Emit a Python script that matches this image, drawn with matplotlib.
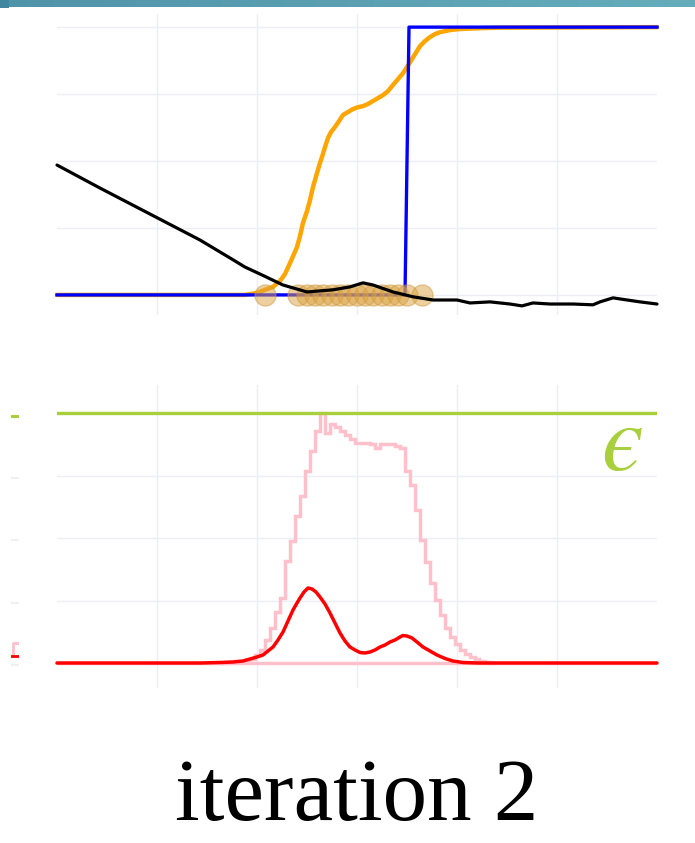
import numpy as np
import matplotlib
matplotlib.use("Agg")
import matplotlib.pyplot as plt
from matplotlib.colors import LinearSegmentedColormap

# ---------------- data ----------------
# top panel: x positions in units of the horizontal axis (0..6)
blue_x = [0.0, 3.48, 3.52, 6.0]
blue_y = [0.0, 0.0, 1.0, 1.0]

orange_x = [0.0, 1.88, 2.00, 2.08, 2.16, 2.23, 2.28, 2.33, 2.37, 2.40, 2.43,
            2.46, 2.50, 2.53, 2.56, 2.60, 2.63, 2.65, 2.68, 2.71, 2.74, 2.78,
            2.82, 2.86, 2.91, 2.96, 3.01, 3.06, 3.11, 3.16, 3.21, 3.26, 3.31,
            3.36, 3.41, 3.46, 3.50, 3.53, 3.58, 3.63, 3.68, 3.73, 3.78, 3.83,
            3.93, 4.03, 4.23, 4.43, 6.0]
orange_y = [0.0, 0.0, 0.0075, 0.019, 0.030, 0.052, 0.078, 0.119, 0.153,
            0.179, 0.220, 0.269, 0.313, 0.354, 0.403, 0.455, 0.493, 0.515,
            0.552, 0.586, 0.608, 0.627, 0.649, 0.672, 0.683, 0.694, 0.701,
            0.705, 0.713, 0.724, 0.735, 0.746, 0.761, 0.784, 0.806, 0.828,
            0.851, 0.869, 0.899, 0.929, 0.948, 0.963, 0.974, 0.981, 0.989,
            0.993, 0.996, 0.998, 1.0]

black_x = [0.0, 0.43, 0.93, 1.43, 1.73, 1.88, 2.03, 2.26, 2.50, 2.76, 2.93,
           3.06, 3.16, 3.36, 3.56, 3.76, 4.00, 4.13, 4.33, 4.53, 4.65, 4.76,
           4.93, 5.16, 5.36, 5.43, 5.56, 5.63, 5.83, 6.0]
black_y = [0.485, 0.399, 0.302, 0.205, 0.138, 0.104, 0.078, 0.037, 0.011,
           0.019, 0.030, 0.045, 0.037, 0.011, -0.007, -0.019, -0.019, -0.030,
           -0.026, -0.034, -0.041, -0.030, -0.034, -0.034, -0.037, -0.026,
           -0.011, -0.015, -0.026, -0.034]

sample_x = [2.08, 2.41, 2.50, 2.58, 2.66, 2.75, 2.83, 2.91, 3.00, 3.08, 3.16,
            3.25, 3.33, 3.41, 3.50, 3.65]
sample_y = [0.0] * len(sample_x)

# bottom panel
eps_level = 1.0

red_x = [0.0, 1.43, 1.63, 1.76, 1.86, 1.93, 2.00, 2.06, 2.11, 2.16, 2.21,
         2.26, 2.31, 2.36, 2.40, 2.43, 2.47, 2.51, 2.55, 2.59, 2.63, 2.68,
         2.73, 2.78, 2.83, 2.88, 2.93, 2.98, 3.03, 3.08, 3.13, 3.18, 3.23,
         3.28, 3.33, 3.38, 3.43, 3.46, 3.50, 3.55, 3.60, 3.66, 3.73, 3.80,
         3.88, 3.96, 4.06, 4.21, 6.0]
red_y = [0.0, 0.0, 0.002, 0.004, 0.008, 0.016, 0.024, 0.032, 0.048, 0.064,
         0.092, 0.124, 0.168, 0.212, 0.24, 0.26, 0.284, 0.30, 0.296, 0.284,
         0.264, 0.236, 0.20, 0.16, 0.12, 0.088, 0.064, 0.052, 0.042, 0.04,
         0.044, 0.052, 0.064, 0.072, 0.084, 0.092, 0.104, 0.11, 0.108, 0.10,
         0.084, 0.064, 0.048, 0.032, 0.018, 0.008, 0.002, 0.0, 0.0]

hist_start, hist_width = 1.625, 0.05
hist_vals = [0.0, 0.004, 0.004, 0.008, 0.008, 0.012, 0.016, 0.032, 0.052,
             0.092, 0.14, 0.204, 0.26, 0.41, 0.49, 0.59, 0.67, 0.77, 0.85,
             0.93, 1.0, 0.92, 0.956, 0.944, 0.928, 0.912, 0.896, 0.88, 0.88,
             0.88, 0.876, 0.86, 0.876, 0.876, 0.876, 0.868, 0.86, 0.768,
             0.712, 0.612, 0.492, 0.404, 0.32, 0.252, 0.192, 0.14, 0.104,
             0.076, 0.052, 0.036, 0.024, 0.016, 0.008, 0.004, 0.0]

grid_levels = [0.0, 0.25, 0.5, 0.75, 1.0]
v_grid = [1, 2, 3, 4, 5]

title = "iteration 2"
eps_label = "\u03f5"

# ---------------- figure ----------------
W, H = 695, 843
fig = plt.figure(figsize=(W / 100, H / 100), dpi=100)
fig.patch.set_facecolor("white")

def px_axes(x0, y0, x1, y1, **kw):
    return fig.add_axes([x0 / W, 1 - y1 / H, (x1 - x0) / W, (y1 - y0) / H], **kw)

GRID = "#eceef5"

def style(ax):
    ax.set_facecolor("none")
    for s in ax.spines.values():
        s.set_visible(False)
    ax.set_xticks(v_grid)
    ax.set_yticks(grid_levels)
    ax.tick_params(length=0, labelleft=False, labelbottom=False)
    ax.grid(True, color=GRID, lw=1.0)
    ax.set_axisbelow(True)

# header band
band = px_axes(0, 0, W, 7)
band.set_axis_off()
cmap = LinearSegmentedColormap.from_list("band", ["#4f93a9", "#65adbb"])
band.imshow(np.linspace(0, 1, 256)[None, :], aspect="auto", cmap=cmap,
            extent=[0, 1, 0, 1])
band.set_xlim(0, 1)
band.set_ylim(0, 1)
sq = px_axes(0, 0, 9, 8)
sq.set_axis_off()
sq.add_patch(plt.Rectangle((0, 0), 1, 1, color="#3f86a0", transform=sq.transAxes))

line_kw = dict(solid_joinstyle="round", solid_capstyle="round")

# top panel
ax1 = px_axes(57, 14, 657, 315)
style(ax1)
ax1.set_xlim(0, 6)
ax1.set_ylim(-0.075, 1.049)
ax1.plot(orange_x, orange_y, color="#ffa500", lw=3.2, zorder=2,
         clip_on=False, **line_kw)
ax1.plot(blue_x, blue_y, color="#0000ff", lw=2.4, zorder=3, clip_on=False)
ax1.scatter(sample_x, sample_y, s=230, facecolor=(0.86, 0.64, 0.26, 0.5),
            edgecolor=(0.80, 0.58, 0.22, 0.45), lw=1.0, zorder=4)
ax1.plot(black_x, black_y, color="black", lw=2.3, zorder=5, clip_on=False,
         **line_kw)

# bottom panel
ax2 = px_axes(57, 385, 657, 688)
style(ax2)
ax2.set_xlim(0, 6)
ax2.set_ylim(-0.1, 1.112)
edges = hist_start + hist_width * np.arange(len(hist_vals) + 1)
ax2.stairs(hist_vals, edges, color="#ffc0cb", lw=2.5, zorder=3, baseline=None)
ax2.plot([0, 6], [0, 0], color="#ffc0cb", lw=2.5, zorder=3)
ax2.plot(red_x, red_y, color="#ff0000", lw=2.5, zorder=4, clip_on=False,
         **line_kw)
ax2.axhline(eps_level, color="#a8cf3c", lw=2.4, zorder=5)
ax2.text(0.942, 0.806, "$" + eps_label + "$", transform=ax2.transAxes,
         color="#a8cf3c", fontsize=68, ha="center", va="center", zorder=6,
         math_fontfamily="stix")

# remnant of the neighbouring panel on the left edge
ax0 = px_axes(11, 385, 19, 688)
ax0.set_axis_off()
ax0.set_xlim(0, 1)
ax0.set_ylim(-0.1, 1.112)
for g in [0.0, 0.25, 0.5, 0.75]:
    ax0.plot([0, 1], [g - 0.008, g - 0.008], color=GRID, lw=1.2)
ax0.plot([0, 1], [0.99, 0.99], color="#a8cf3c", lw=2.2)
ax0.plot([0.3, 0.3, 1.0], [0.028, 0.08, 0.08], color="#ffc0cb", lw=2.0)
ax0.plot([0, 1], [0.028, 0.028], color="#ff0000", lw=2.0)

fig.text(357 / W, 1 - 820 / H, title, family="Liberation Serif", fontsize=64,
         ha="center", va="baseline", color="black")

fig.savefig("out.png", dpi=100, facecolor="white")
